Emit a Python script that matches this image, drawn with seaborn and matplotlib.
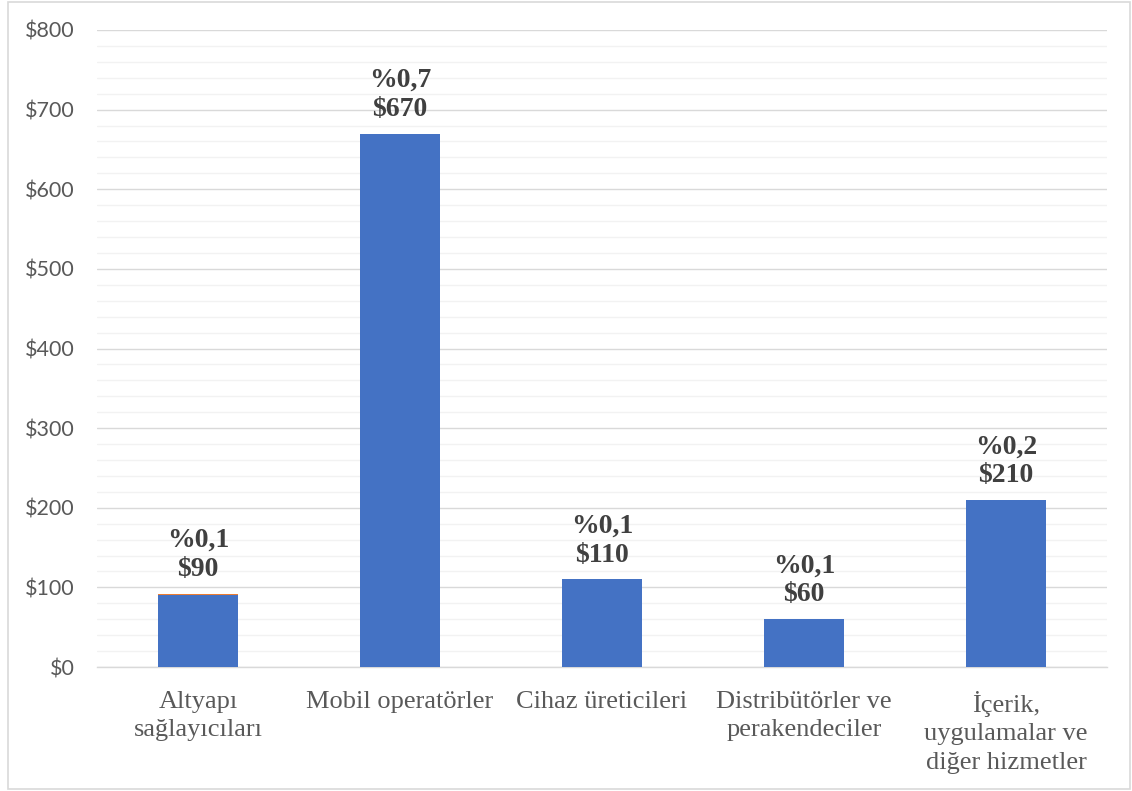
import matplotlib
matplotlib.use("Agg")
import matplotlib.pyplot as plt
from matplotlib.ticker import MultipleLocator, FuncFormatter
from matplotlib.patches import Rectangle
import seaborn as sns
import pandas as pd

# Revenue by segment (billion $) and share of total
categories = [
    "Altyapı\nsağlayıcıları",
    "Mobil operatörler",
    "Cihaz üreticileri",
    "Distribütörler ve\nperakendeciler",
    "İçerik,\nuygulamalar ve\ndiğer hizmetler",
]
revenue = [90, 670, 110, 60, 210]
extra = [2, 0, 0, 0, 0]
shares = ["%0,1", "%0,7", "%0,1", "%0,1", "%0,2"]

df = pd.DataFrame({"cat": categories, "revenue": revenue,
                   "total": [r + e for r, e in zip(revenue, extra)]})

sns.set_theme(style="white")
plt.rcParams["font.family"] = ["Liberation Serif", "DejaVu Serif"]

fig = plt.figure(figsize=(11.32, 7.91), dpi=100)
ax = fig.add_axes([97 / 1132, 1 - 667 / 791, 1010 / 1132, 637 / 791])

# stacked look: totals in orange underneath, main series in blue on top
sns.barplot(data=df, x="cat", y="total", color="#ED7D31", saturation=1,
            width=0.396, ax=ax, zorder=3, linewidth=0)
sns.barplot(data=df, x="cat", y="revenue", color="#4472C4", saturation=1,
            width=0.396, ax=ax, zorder=4, linewidth=0)

ax.set_xlim(-0.5, len(categories) - 0.5)
ax.set_ylim(0, 800)
ax.yaxis.set_major_locator(MultipleLocator(100))
ax.yaxis.set_minor_locator(MultipleLocator(20))
ax.yaxis.set_major_formatter(FuncFormatter(lambda v, p: f"${int(v)}"))
ax.grid(axis="y", which="major", color="#d9d9d9", linewidth=1.0, zorder=0)
ax.grid(axis="y", which="minor", color="#f2f2f2", linewidth=1.0, zorder=0)
ax.set_axisbelow(True)
for s in ["top", "right", "left"]:
    ax.spines[s].set_visible(False)
ax.spines["bottom"].set_color("#d9d9d9")
ax.spines["bottom"].set_linewidth(1.0)
ax.set_xlabel("")
ax.set_ylabel("")
ax.tick_params(axis="both", which="both", length=0)
ax.tick_params(axis="y", pad=16)
ax.tick_params(axis="x", pad=17.5)
for lab in ax.get_yticklabels():
    lab.set_fontfamily(["Lato", "DejaVu Sans"])
    lab.set_fontsize(15.5)
    lab.set_color("#595959")
for lab in ax.get_xticklabels():
    lab.set_fontsize(19)
    lab.set_color("#595959")
    lab.set_linespacing(1.36)

for i, (v, e, s) in enumerate(zip(revenue, extra, shares)):
    ax.annotate(f"{s}\n${v}", xy=(i, v + e), xytext=(0, 8.5),
                textcoords="offset points", ha="center", va="bottom",
                fontsize=20, fontweight="bold", color="#404040",
                linespacing=1.2)

# outer chart border
fig.patches.append(Rectangle((8 / 1132, 0.002), 1 - 10 / 1132, 1 - 0.004,
                             transform=fig.transFigure, fill=False,
                             edgecolor="#d9d9d9", linewidth=1.2))

fig.savefig("out.png", dpi=100)
